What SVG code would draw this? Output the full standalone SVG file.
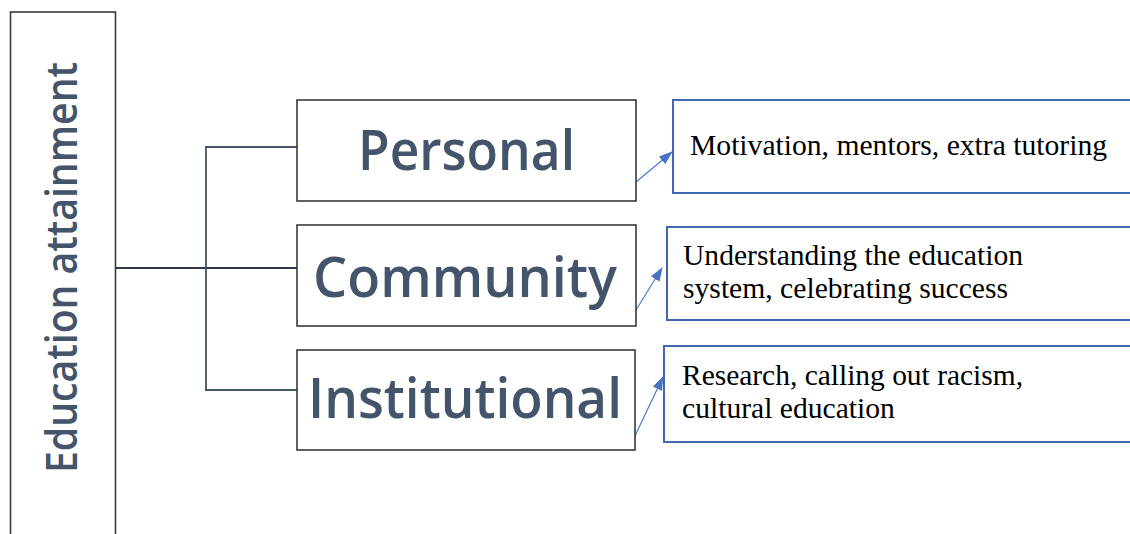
<svg xmlns="http://www.w3.org/2000/svg" width="1130" height="534" viewBox="0 0 1130 534">
  <style>
    .frame { fill: #ffffff; stroke: #3a3a3a; stroke-width: 1.6; }
    .detail { fill: #ffffff; stroke: #4068b0; stroke-width: 2; }
    .label { font-family: "Open Sans", "Liberation Sans", sans-serif; font-weight: 600; fill: #44546a; }
    .note { font-family: "Liberation Serif", "Times New Roman", serif; font-size: 29.6px; fill: #000000; }
    .tree { fill: none; stroke: #44546a; stroke-width: 1.8; }
    .trunk { fill: none; stroke: #2e3a4a; stroke-width: 2; }
    .link { fill: none; stroke: #4a7bd0; stroke-width: 1.2; }
  </style>
  <defs>
    <marker id="arrow" viewBox="0 0 14 10" refX="13" refY="5" markerWidth="14" markerHeight="10" markerUnits="userSpaceOnUse" orient="auto">
      <path d="M0,0 L14,5 L0,10 Z" fill="#4472c4"/>
    </marker>
  </defs>

  <rect width="1130" height="534" fill="#ffffff"/>

  <!-- root -->
  <g id="node-root">
    <rect class="frame" x="10.5" y="12" width="105" height="540"/>
    <text class="label" font-size="44" text-anchor="middle" textLength="411" lengthAdjust="spacingAndGlyphs" transform="translate(77,267.5) rotate(-90)">Education attainment</text>
  </g>

  <!-- tree connectors and arrows -->
  <g id="connectors">
    <path class="trunk" d="M116,268 H297"/>
    <path class="tree" d="M297,147 H206 V390 H297"/>
    <path class="link" d="M636,182 L672,152" marker-end="url(#arrow)"/>
    <path class="link" d="M636,310 L662,268" marker-end="url(#arrow)"/>
    <path class="link" d="M633,440 L663,377" marker-end="url(#arrow)"/>
  </g>

  <g id="node-personal">
    <rect class="frame" x="297" y="100" width="339" height="101"/>
    <text class="label" font-size="56" x="466.5" y="170" text-anchor="middle" textLength="217" lengthAdjust="spacingAndGlyphs">Personal</text>
  </g>
  <g id="node-community">
    <rect class="frame" x="297" y="225" width="339" height="101"/>
    <text class="label" font-size="56" x="465" y="297" text-anchor="middle" textLength="304" lengthAdjust="spacingAndGlyphs">Community</text>
  </g>
  <g id="node-institutional">
    <rect class="frame" x="297" y="350" width="338" height="100"/>
    <text class="label" font-size="56" x="465" y="418" text-anchor="middle" textLength="314" lengthAdjust="spacingAndGlyphs">Institutional</text>
  </g>

  <g id="node-personal-detail">
    <rect class="detail" x="673" y="100" width="480" height="93"/>
    <text class="note" x="690" y="155" textLength="417" lengthAdjust="spacingAndGlyphs">Motivation, mentors, extra tutoring</text>
  </g>
  <g id="node-community-detail">
    <rect class="detail" x="667" y="227" width="480" height="93"/>
    <text class="note" x="683" y="265" textLength="340" lengthAdjust="spacingAndGlyphs">Understanding the education</text>
    <text class="note" x="683" y="298" textLength="325" lengthAdjust="spacingAndGlyphs">system, celebrating success</text>
  </g>
  <g id="node-institutional-detail">
    <rect class="detail" x="664" y="346" width="480" height="96"/>
    <text class="note" x="682" y="385" textLength="341" lengthAdjust="spacingAndGlyphs">Research, calling out racism,</text>
    <text class="note" x="682" y="418">cultural education</text>
  </g>
</svg>
